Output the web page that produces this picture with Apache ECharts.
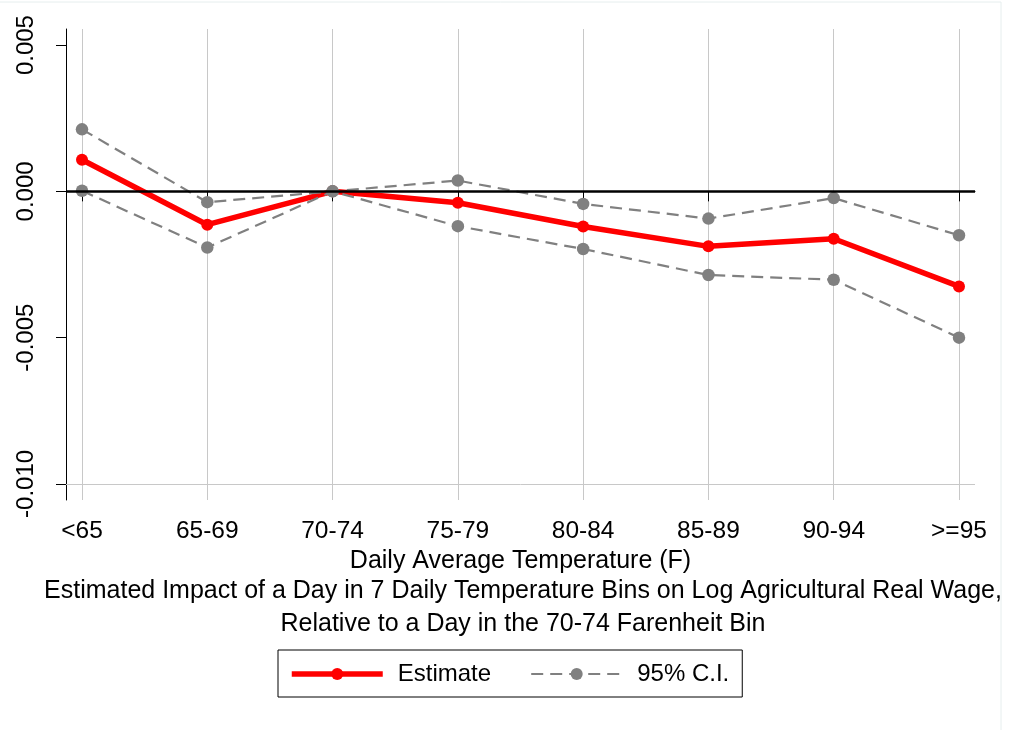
<!DOCTYPE html>
<html>
<head>
    <meta charset="utf-8" />
    <title>Daily Temperature Bins</title>
    <script src="https://cdn.jsdelivr.net/npm/echarts/dist/echarts.min.js"></script>
    <style>
        html, body { margin: 0; padding: 0; background: #fff; }
    </style>
</head>
<body>
    <div id="main" style="width: 1009px;height:730px;"></div>
    <script type="text/javascript">
        // temperature bins on the x axis
        var categories = ['<65', '65-69', '70-74', '75-79', '80-84', '85-89', '90-94', '>=95'];
        // point estimate and the 95% band
        var estimate = [0.00108, -0.00114, 0, -0.00039, -0.0012, -0.00188, -0.00162, -0.00325];
        var ciUpper = [0.00212, -0.00037, 0, 0.00037, -0.00043, -0.00093, -0.00023, -0.0015];
        var ciLower = [0.00002, -0.00192, 0, -0.00119, -0.00197, -0.00286, -0.00302, -0.005];
        // y tick labels
        var yTicks = [-0.01, -0.005, 0, 0.005];

        var yMin = -0.01055, yMax = 0.00555;
        var font = '"Liberation Sans", Arial, sans-serif';

        var myChart = echarts.init(document.getElementById('main'));

        var option = {
            animation: false,
            backgroundColor: '#fff',
            textStyle: { fontFamily: font, color: '#000' },
            title: {
                text: 'Estimated Impact of a Day in 7 Daily Temperature Bins on Log Agricultural Real Wage,\nRelative to a Day in the 70-74 Farenheit Bin',
                left: 518,
                top: 570,
                textAlign: 'center',
                textStyle: { fontSize: 25, fontWeight: 'normal', color: '#000', lineHeight: 33, fontFamily: font }
            },
            legend: {
                data: ['Estimate', '95% C.I.'],
                left: 278,
                top: 650,
                orient: 'horizontal',
                selectedMode: false,
                borderColor: '#000',
                borderWidth: 1,
                padding: [12, 13, 11, 11],
                itemWidth: 91,
                itemHeight: 15,
                itemGap: 39,
                lineStyle: { width: 'inherit' },
                textStyle: { fontSize: 24, color: '#000', fontFamily: font, padding: [0, 0, 0, 10] }
            },
            // outer grid carries the axis frame, inner grid places the bins
            grid: [
                { left: 66, right: 34, top: 29, bottom: 230 },
                { left: 82, right: 50, top: 29, bottom: 230 }
            ],
            xAxis: [
                {
                    type: 'value', gridIndex: 0, min: 0, max: 1,
                    axisLine: { show: true, lineStyle: { color: '#000', width: 1 } },
                    axisTick: { show: false },
                    axisLabel: { show: false },
                    splitLine: { show: false }
                },
                {
                    type: 'category', gridIndex: 1, data: categories, boundaryGap: false,
                    axisLine: { show: false },
                    axisTick: { show: true, length: 10, alignWithLabel: true, lineStyle: { color: '#000', width: 1 } },
                    axisLabel: { fontSize: 24.5, color: '#000', margin: 19, fontFamily: font },
                    splitLine: { show: true, lineStyle: { color: '#c8c8c8', width: 1 } },
                    name: 'Daily Average Temperature (F)',
                    nameLocation: 'middle',
                    nameGap: 43,
                    nameTextStyle: { fontSize: 25, color: '#000', fontFamily: font }
                }
            ],
            yAxis: [
                {
                    type: 'value', gridIndex: 0, min: yMin, max: yMax,
                    axisLine: { show: true, lineStyle: { color: '#000', width: 1 } },
                    axisTick: { show: true, length: 10, customValues: yTicks, lineStyle: { color: '#000', width: 1 } },
                    axisLabel: {
                        customValues: yTicks, rotate: 90, margin: 28, fontSize: 24, color: '#000', fontFamily: font,
                        formatter: function (v) { return (Math.abs(v) < 1e-12 ? 0 : v).toFixed(3); }
                    },
                    splitLine: { show: false }
                },
                {
                    type: 'value', gridIndex: 1, min: yMin, max: yMax, show: false
                }
            ],
            series: [
                {
                    // reference lines at 0 and -0.005 across the full plot
                    type: 'line', xAxisIndex: 0, yAxisIndex: 0, z: 1,
                    data: [[0, 0]], showSymbol: false, silent: true,
                    lineStyle: { opacity: 0 },
                    markLine: {
                        silent: true, symbol: 'none', label: { show: false },
                        data: [
                            { yAxis: -0.005, lineStyle: { color: '#c8c8c8', width: 1, type: 'solid' } },
                            { yAxis: 0, lineStyle: { color: '#000', width: 2.5, type: 'solid' } }
                        ]
                    }
                },
                {
                    name: 'Estimate', type: 'line', xAxisIndex: 1, yAxisIndex: 1, z: 3,
                    data: estimate,
                    symbol: 'circle', symbolSize: 12, showSymbol: true,
                    itemStyle: { color: '#ff0000' },
                    lineStyle: { color: '#ff0000', width: 5.5 }
                },
                {
                    name: '95% C.I.', type: 'line', xAxisIndex: 1, yAxisIndex: 1, z: 4,
                    data: ciUpper,
                    symbol: 'circle', symbolSize: 12.5,
                    itemStyle: { color: '#808080' },
                    lineStyle: { color: '#808080', width: 2.2, type: [12, 7] }
                },
                {
                    name: '95% C.I.', type: 'line', xAxisIndex: 1, yAxisIndex: 1, z: 4,
                    data: ciLower,
                    symbol: 'circle', symbolSize: 12.5,
                    itemStyle: { color: '#808080' },
                    lineStyle: { color: '#808080', width: 2.2, type: [12, 7] }
                }
            ],
            graphic: [
                { type: 'line', silent: true, shape: { x1: 0, y1: 2, x2: 1001, y2: 2 }, style: { stroke: '#e6eeee', lineWidth: 1 } },
                { type: 'line', silent: true, shape: { x1: 1001, y1: 2, x2: 1001, y2: 730 }, style: { stroke: '#e6eeee', lineWidth: 1 } }
            ]
        };

        myChart.setOption(option);
    </script>
</body>
</html>
